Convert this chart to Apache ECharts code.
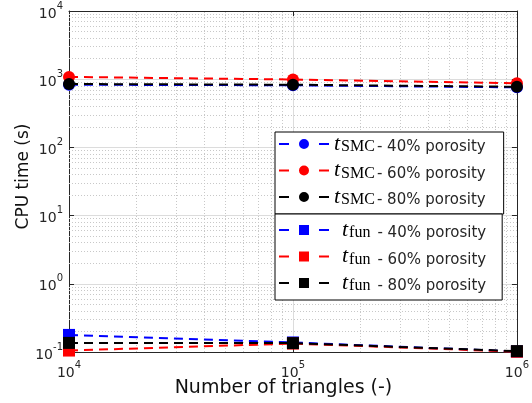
<!DOCTYPE html>
<html><head><meta charset="utf-8">
<script src="https://cdn.jsdelivr.net/npm/echarts@6/dist/echarts.min.js"></script>
<style>html,body{margin:0;padding:0;background:#fff}#c{width:532px;height:403px}</style>
</head><body><div id="c"></div>
<script>
const triangles = [1e4, 1e5, 1e6];
const smc40 = [830, 815, 760];
const smc60 = [1080, 990, 870];
const smc80 = [850, 830, 775];
const fun40 = [0.178, 0.138, 0.102];
const fun60 = [0.105, 0.133, 0.101];
const fun80 = [0.136, 0.135, 0.103];
const seriesNames = ['SMC40','SMC60','SMC80','fun40','fun60','fun80'];
const seriesSub = ['SMC','SMC','SMC','fun','fun','fun'];
const seriesPct = ['40%','60%','80%','40%','60%','80%'];
const seriesVals = [smc40, smc60, smc80, fun40, fun60, fun80];
const seriesColors = ['#0000ff','#ff0000','#000000','#0000ff','#ff0000','#000000'];
const seriesSymbols = ['circle','circle','circle','rect','rect','rect'];

const FONT = 'DejaVu Sans';
const TXT = '#262626';

// legend icons: dash - marker - dash (icon box 50 x 10)
const ICON_CIRCLE = 'path://M0,4h10v2h-10zM30,5a5,5 0 1,0 -10,0a5,5 0 1,0 10,0zM40,4h10v2h-10z';
const ICON_SQUARE = 'path://M0,4h10v2h-10zM20,0h10v10h-10zM40,4h10v2h-10z';

const minorX = [], minorY = [];
for (let e = 4; e < 6; e++) for (let k = 2; k <= 9; k++) minorX.push(k * Math.pow(10, e));
for (let e = -1; e < 4; e++) for (let k = 2; k <= 9; k++) minorY.push(+(k * Math.pow(10, e)).toPrecision(3));

function powLabel(v) {
  const e = Math.round(Math.log10(v));
  return '{b|10}{s|' + e + '}';
}
const labelRich = {
  b: {fontSize: 14, fontFamily: FONT, color: TXT, lineHeight: 20, verticalAlign: 'bottom'},
  s: {fontSize: 10, fontFamily: FONT, color: TXT, lineHeight: 13, verticalAlign: 'top'}
};

const series = seriesNames.map((n, i) => ({
  name: n, type: 'line',
  data: triangles.map((x, j) => [x, seriesVals[i][j]]),
  symbol: seriesSymbols[i], symbolSize: 12,
  lineStyle: {type: [9, 6], width: 2, color: seriesColors[i]},
  itemStyle: {color: seriesColors[i], borderWidth: 0},
  z: 3 + i, clip: false
}));
series.unshift({
  type: 'line', data: [[1e5, 1]], symbol: 'none', silent: true,
  lineStyle: {opacity: 0}, z: 1,
  markLine: {
    silent: true, symbol: 'none', label: {show: false}, z: 1,
    lineStyle: {type: [1, 2], color: '#c8c8c8', width: 1},
    animation: false,
    data: minorX.map(v => ({xAxis: v})).concat(minorY.map(v => ({yAxis: v})))
  }
});

const legendRich = {
  t: {fontFamily: 'Liberation Serif', fontStyle: 'italic', fontSize: 22, color: '#000', lineHeight: 22, verticalAlign: 'bottom'},
  sub: {fontFamily: 'Liberation Serif', fontSize: 16, color: '#000', lineHeight: 22, verticalAlign: 'bottom', padding: [0, 0, 0, 1]},
  n: {fontFamily: FONT, fontSize: 15, color: TXT, lineHeight: 22, verticalAlign: 'bottom', padding: [0, 0, 0, 2]},
  sp: {width: 8, lineHeight: 22},
  sp2: {width: 5, lineHeight: 22}
};
function legendFmt(name) {
  const i = seriesNames.indexOf(name);
  if (seriesSub[i] === 'SMC') return '{t|t}{sub|SMC}{n|- ' + seriesPct[i] + ' porosity}';
  return '{sp|}{t|t}{sub|fun}{sp2|}{n|- ' + seriesPct[i] + ' porosity}';
}
const legendItems = seriesNames.map((n, i) => ({
  name: n, icon: seriesSymbols[i] === 'circle' ? ICON_CIRCLE : ICON_SQUARE,
  itemStyle: {color: seriesColors[i], borderWidth: 0}
}));
const legendBase = {
  orient: 'vertical', left: 275, itemWidth: 50, itemHeight: 10, itemGap: 4.5, z: 20,
  backgroundColor: '#fff', borderColor: '#000', borderWidth: 1, borderRadius: 0,
  formatter: legendFmt, textStyle: {rich: legendRich}, selectedMode: false,
  itemStyle: {borderWidth: 0}, symbolKeepAspect: false
};

const chart = echarts.init(document.getElementById('c'));
chart.setOption({
  backgroundColor: '#fff',
  animation: false,
  grid: {left: 69, right: 14, top: 11, bottom: 51},
  legend: [
    Object.assign({}, legendBase, {top: 132, data: legendItems.slice(0, 3), padding: [1, 18, 6, 4]}),
    Object.assign({}, legendBase, {top: 214, data: legendItems.slice(3), padding: [5, 16, 6, 4]})
  ],
  xAxis: [{
    type: 'log', logBase: 10, min: 1e4, max: 1e6,
    name: 'Number of triangles (-)', nameLocation: 'middle', nameGap: 27, nameMoveOverlap: false,
    nameTextStyle: {fontSize: 19, fontFamily: FONT, color: '#111', padding: [0, 19, 0, 0]},
    axisLine: {lineStyle: {color: TXT, width: 1}},
    axisTick: {inside: true, length: 5, lineStyle: {color: TXT}},
    axisLabel: {formatter: powLabel, rich: labelRich, margin: 8},
    splitLine: {show: true, lineStyle: {color: '#dcdcdc', width: 1}}
  }, {
    type: 'log', logBase: 10, min: 1e4, max: 1e6, position: 'top',
    axisLine: {show: true, lineStyle: {color: TXT}},
    axisTick: {inside: true, length: 5, lineStyle: {color: TXT}},
    axisLabel: {show: false}, splitLine: {show: false}
  }],
  yAxis: [{
    type: 'log', logBase: 10, min: 0.1, max: 1e4,
    name: 'CPU time (s)', nameLocation: 'middle', nameGap: 37, nameMoveOverlap: false,
    nameTextStyle: {fontSize: 17, fontFamily: FONT, color: '#111', padding: [0, 0, 0, 10]},
    axisLine: {show: true, lineStyle: {color: TXT, width: 1}},
    axisTick: {show: true, inside: true, length: 5, lineStyle: {color: TXT}},
    axisLabel: {formatter: powLabel, rich: labelRich, margin: 6},
    splitLine: {show: true, lineStyle: {color: '#dcdcdc', width: 1}}
  }, {
    type: 'log', logBase: 10, min: 0.1, max: 1e4, position: 'right',
    axisLine: {show: true, lineStyle: {color: TXT}},
    axisTick: {show: true, inside: true, length: 5, lineStyle: {color: TXT}},
    axisLabel: {show: false}, splitLine: {show: false}
  }],
  series: series
});
</script></body></html>
